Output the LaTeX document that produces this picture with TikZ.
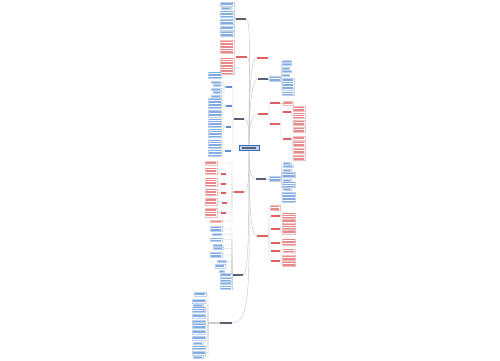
\documentclass[tikz,border=0pt]{standalone}
\usetikzlibrary{calc}
\definecolor{bt}{HTML}{5B8FD8}
\definecolor{rt}{HTML}{E06060}
\definecolor{dk}{HTML}{5A6078}
\definecolor{sp}{HTML}{C9C9C9}
\definecolor{cfill}{HTML}{BCD4F2}
\definecolor{cdraw}{HTML}{3A6DB5}
\pgfdeclarelayer{bg}
\pgfsetlayers{bg,main}
\tikzset{
 tbx/.style={draw, line width=0.25pt, inner sep=0pt, outer sep=0pt, rectangle, fill=white},
 labn/.style={rectangle, inner sep=0pt, outer sep=0pt, minimum height=1.2pt},
 cn/.style={draw=sp, line width=0.3pt, rounded corners=1pt},
 spine/.style={draw=sp, line width=0.45pt},
 cnode/.style={rectangle, draw=cdraw, fill=cfill, line width=0.4pt, inner sep=0pt, minimum width=20pt, minimum height=5pt},
}
\newcommand\tb[6]{%
 \node[tbx,draw=#6!40,minimum width=#4pt,minimum height={#5*1.6pt+0.3pt}] (#1) at (#2,#3) {};
 \foreach \i in {1,...,#5}{\fill[#6!75] ([xshift=0.6pt,yshift={-((\i-1)*1.6+0.5)*1pt}]#1.north west) rectangle ++(#4-1.2,0.8);}}
\newcommand\lab[5]{\node[labn,fill=#5,minimum width=#4pt] (#1) at (#2,#3) {};}
\begin{document}
\begin{tikzpicture}[x=1pt,y=-1pt]
\begin{pgfonlayer}{bg}
\fill[white] (0,0) rectangle (500,360);
\end{pgfonlayer}
\useasboundingbox (0,0) rectangle (500,360);
% centre
\node[cnode] (C) at (249,148) {};
\fill[dk] ([xshift=-7pt,yshift=-0.6pt]C.center) rectangle ([xshift=7pt,yshift=0.6pt]C.center);
% ---- left top
\lab{LA}{241}{19}{10}{dk}
\tb{a1}{227}{4}{14}{2}{bt}
\tb{a2}{226}{8.5}{10}{1}{bt}
\tb{a3}{227}{14}{14}{4}{bt}
\tb{a4}{227}{22}{14}{3}{bt}
\tb{a5}{227}{28}{14}{2}{bt}
\tb{a6}{227}{34}{14}{3}{bt}
\lab{LB}{241}{57}{11}{rt}
\tb{b1}{227}{47}{14}{8}{rt}
\tb{b2}{227}{66}{14}{10}{rt}
% ---- LC
\lab{LC}{239}{119}{10}{dk}
\lab{c1}{229}{87}{6}{bt}
\tb{c1a}{215}{75}{13}{4}{bt}
\tb{c1b}{216}{82}{9}{1}{bt}
\tb{c1c}{217}{85.5}{8}{1}{bt}
\tb{c1d}{216}{89}{10}{1}{bt}
\tb{c1e}{217}{92.5}{8}{1}{bt}
\tb{c1f}{216}{96}{10}{1}{bt}
\lab{c2}{229}{106}{6}{bt}
\tb{c2a}{215}{103.5}{13}{6}{bt}
\tb{c2b}{215}{113.5}{13}{4}{bt}
\lab{c3}{228}{127}{5}{bt}
\tb{c3a}{215}{123}{13}{5}{bt}
\tb{c3b}{215}{133}{13}{5}{bt}
\lab{c4}{228}{151}{6}{bt}
\tb{c4a}{215}{144}{13}{5}{bt}
\tb{c4b}{215}{153}{13}{4}{bt}
% ---- LD
\lab{LD}{239}{192}{10}{rt}
\tb{d0}{211}{163}{12}{2}{rt}
\lab{d1}{223}{174}{5}{rt}
\tb{d1a}{211}{171}{12}{4}{rt}
\lab{d2}{223}{184}{5}{rt}
\tb{d2a}{211}{182}{12}{5}{rt}
\lab{d3}{223}{193}{5}{rt}
\tb{d3a}{211}{192}{12}{4}{rt}
\lab{d4}{224}{203}{5}{rt}
\tb{d4a}{211}{201.5}{12}{4}{rt}
\lab{d5}{223}{213}{5}{rt}
\tb{d5a}{211}{212.5}{12}{5}{rt}
\tb{d6}{216}{221}{12}{1}{rt}
% ---- LE
\lab{LE}{238}{275}{10}{dk}
\tb{e1}{216}{229}{12}{3}{bt}
\tb{e2}{217}{234.5}{9}{1}{bt}
\tb{e3}{216}{239.5}{12}{2}{bt}
\tb{e4}{218}{245}{9}{1}{bt}
\tb{e5}{218}{248.5}{10}{1}{bt}
\tb{e6}{216}{255}{12}{3}{bt}
\tb{e7}{222}{261.5}{9}{1}{bt}
\tb{e8}{220}{266}{10}{2}{bt}
\tb{e9}{222}{271}{5}{1}{bt}
\tb{e10}{226}{275}{12}{2}{bt}
\tb{e11}{226}{279.5}{12}{2}{bt}
\tb{e12}{226}{283.5}{12}{1}{bt}
\tb{e13}{226}{287.5}{12}{2}{bt}
% ---- LF
\lab{LF}{226}{323}{12}{dk}
\tb{f0}{200}{294}{12}{2}{bt}
\tb{f1}{199}{301}{13}{2}{bt}
\tb{f2}{198}{305}{10}{1}{bt}
\tb{f3}{199}{309.5}{13}{3}{bt}
\tb{f4}{199}{316}{13}{2}{bt}
\tb{f5}{199}{321}{13}{1}{bt}
\tb{f6}{199}{326}{13}{3}{bt}
\tb{f7}{199}{332}{13}{2}{bt}
\tb{f8}{199}{338}{13}{2}{bt}
\tb{f9}{198}{343}{10}{1}{bt}
\tb{f10}{199}{347.5}{13}{2}{bt}
\tb{f11}{199}{353}{13}{2}{bt}
\tb{f12}{198}{357.5}{10}{1}{bt}
% ---- right
\lab{RA}{262}{58}{11}{rt}
\lab{RB}{263}{79}{10}{dk}
\tb{rb}{275}{79}{11}{3}{bt}
\tb{r1}{287}{61}{9}{1}{bt}
\tb{r2}{287}{64.5}{9}{1}{bt}
\tb{r3}{286}{68}{7}{1}{bt}
\tb{r4}{287}{71.5}{9}{1}{bt}
\tb{r5}{286}{75}{7}{1}{bt}
\tb{r6}{288}{84}{12}{7}{bt}
\tb{r7}{288}{93.5}{12}{2}{bt}
\lab{RC}{263}{114}{10}{rt}
\lab{rc1}{275}{103}{10}{rt}
\tb{rc1a}{288}{103}{10}{2}{rt}
\lab{rc2}{275}{124}{10}{rt}
\lab{rc2a}{287}{112}{8}{rt}
\tb{g1}{299}{109}{12}{3}{rt}
\tb{g2}{299}{115.5}{12}{3}{rt}
\tb{g3}{299}{123}{12}{3}{rt}
\tb{g4}{299}{130}{12}{3}{rt}
\lab{rc2b}{287}{139}{8}{rt}
\tb{g5}{299}{138}{12}{2}{rt}
\tb{g6}{299}{144}{12}{3}{rt}
\tb{g7}{299}{151}{12}{3}{rt}
\tb{g8}{299}{158}{12}{3}{rt}
\lab{RD}{261}{179}{10}{dk}
\tb{rd}{275}{179}{11}{3}{bt}
\tb{h1}{287}{163}{8}{1}{bt}
\tb{h2}{288}{166.5}{10}{1}{bt}
\tb{h3}{287}{170}{8}{1}{bt}
\tb{h4}{289}{175}{13}{3}{bt}
\tb{h5}{287}{180}{8}{1}{bt}
\tb{h6}{289}{184.5}{13}{3}{bt}
\tb{h7}{287}{189.5}{8}{1}{bt}
\tb{h8}{289}{197.5}{13}{6}{bt}
\lab{RE}{262}{236}{11}{rt}
\tb{re0}{275}{208}{10}{3}{rt}
\lab{s1}{275}{216}{9}{rt}
\tb{k1}{289}{215.5}{13}{3}{rt}
\tb{k2}{289}{221}{13}{2}{rt}
\lab{s2}{275}{229}{9}{rt}
\tb{k3}{289}{226.5}{13}{3}{rt}
\tb{k4}{289}{232}{13}{2}{rt}
\lab{s3}{275}{243}{9}{rt}
\tb{k5}{289}{242}{13}{4}{rt}
\lab{s4}{275}{251}{9}{rt}
\tb{k6}{289}{250.5}{12}{2}{rt}
\lab{s5}{275}{261}{9}{rt}
\tb{k7}{289}{258}{13}{3}{rt}
\tb{k8}{289}{264}{13}{3}{rt}
% ---- connectors
\begin{pgfonlayer}{bg}
\draw[spine] (C.north) .. controls +(0,-60) and +(-5,0) .. (RA.west);
\draw[spine] (C.north) .. controls +(0,-45) and +(-5,0) .. (RB.west);
\draw[spine] (C.north) .. controls +(0,-25) and +(-5,0) .. (RC.west);
\draw[spine] (C.south) .. controls +(0,20) and +(-5,0) .. (RD.west);
\draw[spine] (C.south) .. controls +(0,60) and +(-5,0) .. (RE.west);
\draw[spine] (C.north) .. controls +(0,-90) and +(5,0) .. (LA.east);
\draw[spine] (C.north) .. controls +(0,-60) and +(5,0) .. (LB.east);
\draw[spine] (C.north) .. controls +(0,-20) and +(4,0) .. (LC.east);
\draw[spine] (C.south) .. controls +(0,30) and +(4,0) .. (LD.east);
\draw[spine] (C.south) .. controls +(0,90) and +(5,0) .. (LE.east);
\draw[spine] (C.south) .. controls +(0,130) and +(20,0) .. (LF.east);
\foreach \c in {a1,a2,a3,a4,a5,a6} \draw[cn] (LA.west) -- ++(-1.5,0) |- (\c.east);
\foreach \c in {b1,b2} \draw[cn] (LB.west) -- ++(-1.5,0) |- (\c.east);
\foreach \c in {c1,c2,c3,c4} \draw[cn] (LC.west) -- ++(-1,0) |- (\c.east);
\foreach \c in {c1a,c1b,c1c,c1d,c1e,c1f} \draw[cn] (c1.west) -- ++(-2,0) |- (\c.east);
\foreach \c in {c2a,c2b} \draw[cn] (c2.west) -- ++(-2,0) |- (\c.east);
\foreach \c in {c3a,c3b} \draw[cn] (c3.west) -- ++(-2,0) |- (\c.east);
\foreach \c in {c4a,c4b} \draw[cn] (c4.west) -- ++(-2,0) |- (\c.east);
\foreach \c in {d0,d1,d2,d3,d4,d5,d6} \draw[cn] (LD.west) -- ++(-2,0) |- (\c.east);
\foreach \p in {d1,d2,d3,d4,d5} \draw[cn] (\p.west) -- ++(-1.5,0) |- (\p a.east);
\foreach \c in {e1,e2,e3,e4,e5,e6,e7,e8,e9,e10,e11,e12,e13} \draw[cn] (LE.west) -- ++(-1,0) |- (\c.east);
\foreach \c in {f0,f1,f2,f3,f4,f5,f6,f7,f8,f9,f10,f11,f12} \draw[cn] (LF.west) -- ++(-12,0) |- (\c.east);
\draw[cn] (RB.east) -- (rb.west);
\foreach \c in {r1,r2,r3,r4,r5,r6,r7} \draw[cn] (rb.east) -- ++(0.8,0) |- (\c.west);
\foreach \c in {rc1,rc2} \draw[cn] (RC.east) -- ++(1,0) |- (\c.west);
\draw[cn] (rc1.east) -- (rc1a.west);
\foreach \c in {rc2a,rc2b} \draw[cn] (rc2.east) -- ++(1,0) |- (\c.west);
\foreach \c in {g1,g2,g3,g4} \draw[cn] (rc2a.east) -- ++(1,0) |- (\c.west);
\foreach \c in {g5,g6,g7,g8} \draw[cn] (rc2b.east) -- ++(1,0) |- (\c.west);
\draw[cn] (RD.east) -- (rd.west);
\foreach \c in {h1,h2,h3,h4,h5,h6,h7,h8} \draw[cn] (rd.east) -- ++(0.8,0) |- (\c.west);
\foreach \c in {re0,s1,s2,s3,s4,s5} \draw[cn] (RE.east) -- ++(1.5,0) |- (\c.west);
\foreach \c in {k1,k2} \draw[cn] (s1.east) -- ++(1,0) |- (\c.west);
\foreach \c in {k3,k4} \draw[cn] (s2.east) -- ++(1,0) |- (\c.west);
\draw[cn] (s3.east) -- ++(1,0) |- (k5.west);
\draw[cn] (s4.east) -- ++(1,0) |- (k6.west);
\foreach \c in {k7,k8} \draw[cn] (s5.east) -- ++(1,0) |- (\c.west);
\end{pgfonlayer}
\end{tikzpicture}
\end{document}
